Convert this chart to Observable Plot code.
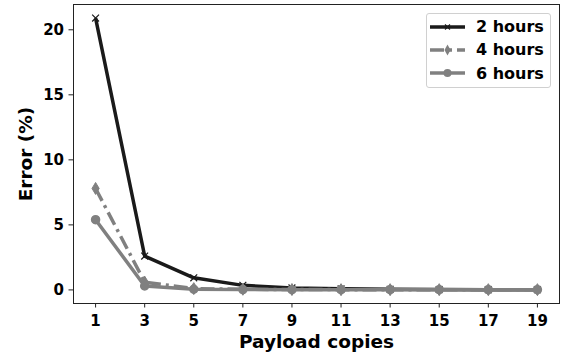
<!DOCTYPE html>
<html><head><meta charset="utf-8">
<script src="https://cdn.jsdelivr.net/npm/d3@7"></script>
<script src="https://cdn.jsdelivr.net/npm/@observablehq/plot@0.6"></script>
<style>
html,body{margin:0;padding:0;background:#fff;}
#wrap{position:relative;width:561px;height:356px;font-family:"DejaVu Sans",sans-serif;font-weight:bold;}
#chart svg text{font-weight:bold;}
#legend{position:absolute;left:426px;top:13px;width:125px;height:75px;border:1px solid #d0d0d0;border-radius:3px;background:rgba(255,255,255,0.85);box-sizing:border-box;}
.row{position:absolute;left:0;height:20px;display:flex;align-items:center;font-size:16px;color:#000;white-space:nowrap;}
.row svg{margin-left:3px;margin-right:11px;}
</style>
</head><body>
<div id="wrap"><div id="chart"></div><div id="legend"></div></div>
<script>
const copies = [1, 3, 5, 7, 9, 11, 13, 15, 17, 19];
const err2h = [20.9, 2.6, 0.93, 0.35, 0.15, 0.08, 0.05, 0.03, 0.02, 0.02];
const err4h = [7.8, 0.6, 0.1, 0.05, 0.03, 0.02, 0.02, 0.02, 0.02, 0.02];
const err6h = [5.4, 0.3, 0.05, 0.03, 0.02, 0.02, 0.02, 0.02, 0.02, 0.02];
const seriesNames = ["2 hours", "4 hours", "6 hours"];
const xTicks = [1, 3, 5, 7, 9, 11, 13, 15, 17, 19];
const yTicks = [0, 5, 10, 15, 20];

const styles = {
  "2 hours": {color: "#1a1a1a", dash: null, symbol: "times", r: 3.2},
  "4 hours": {color: "#808080", dash: "14,5,3,5", symbol: "thindiamond", r: 4.5},
  "6 hours": {color: "#808080", dash: null, symbol: "circle", r: 4}
};
const thinDiamond = {draw(ctx, size) {
  const h = Math.sqrt(size) * 0.75, w = h * 0.6;
  ctx.moveTo(0, -h); ctx.lineTo(w, 0); ctx.lineTo(0, h); ctx.lineTo(-w, 0); ctx.closePath();
}};
const data = [err2h, err4h, err6h].flatMap((vals, i) =>
  vals.map((v, j) => ({series: seriesNames[i], x: copies[j], y: v})));

const marks = [];
seriesNames.forEach(s => {
  const st = styles[s];
  const d = data.filter(p => p.series === s);
  marks.push(Plot.line(d, {x: "x", y: "y", stroke: st.color, strokeWidth: 3.5,
    strokeDasharray: st.dash, strokeLinejoin: "round", strokeLinecap: "butt"}));
  if (st.symbol === "times") {
    marks.push(Plot.dot(d, {x: "x", y: "y", symbol: "times", r: st.r, stroke: st.color, strokeWidth: 1.2}));
  } else if (st.symbol === "thindiamond") {
    marks.push(Plot.dot(d, {x: "x", y: "y", symbol: thinDiamond, r: st.r, fill: st.color, stroke: st.color, strokeWidth: 1}));
  } else {
    marks.push(Plot.dot(d, {x: "x", y: "y", symbol: "circle", r: st.r, fill: st.color, stroke: st.color}));
  }
});

const chart = Plot.plot({
  width: 561, height: 356,
  marginLeft: 73, marginRight: 2, marginTop: 4, marginBottom: 53,
  style: {fontFamily: "'DejaVu Sans', sans-serif", fontWeight: "bold", fontSize: "15px", color: "#000", background: "#fff"},
  x: {domain: [0.1, 19.9]},
  y: {domain: [-1.045, 21.945]},
  marks: [
    Plot.frame({stroke: "#222", strokeWidth: 1}),
    Plot.axisX({ticks: xTicks, tickSize: 4.5, tickPadding: 7, fontSize: 15, label: "Payload copies",
      labelAnchor: "center", labelArrow: false, labelOffset: 44, stroke: "#222"}),
    Plot.axisY({ticks: yTicks, tickSize: 4.5, tickPadding: 5, fontSize: 15, label: "Error (%)",
      labelAnchor: "center", labelArrow: false, labelOffset: 55, stroke: "#222"}),
    ...marks
  ]
});
chart.querySelectorAll("g[aria-label='x-axis label'], g[aria-label='y-axis label']").forEach(g => {
  g.setAttribute("font-size", "18.5");
  g.querySelectorAll("text").forEach(t => t.setAttribute("font-size", "18.5"));
});
document.getElementById("chart").appendChild(chart);

// legend
const legend = document.getElementById("legend");
seriesNames.forEach((s, i) => {
  const st = styles[s];
  const row = document.createElement("div");
  row.className = "row";
  row.style.top = (2.5 + i * 23.3) + "px";
  let marker = "";
  if (st.symbol === "times") marker = '<path d="M15,7.5l5,5M20,7.5l-5,5" stroke="' + st.color + '" stroke-width="1.2"/>';
  else if (st.symbol === "thindiamond") marker = '<path d="M17.5,4.5L20.5,10L17.5,15.5L14.5,10Z" fill="' + st.color + '"/>';
  else marker = '<circle cx="17.5" cy="10" r="4" fill="' + st.color + '"/>';
  const lineAttrs = st.dash ? ' stroke-dasharray="' + st.dash + '"' : '';
  row.innerHTML = '<svg width="35" height="20"><line x1="0" x2="35" y1="10" y2="10" stroke="' + st.color + '" stroke-width="3.5"' + lineAttrs + '/>' + marker + '</svg><span>' + s + '</span>';
  legend.appendChild(row);
});
</script>
</body></html>
